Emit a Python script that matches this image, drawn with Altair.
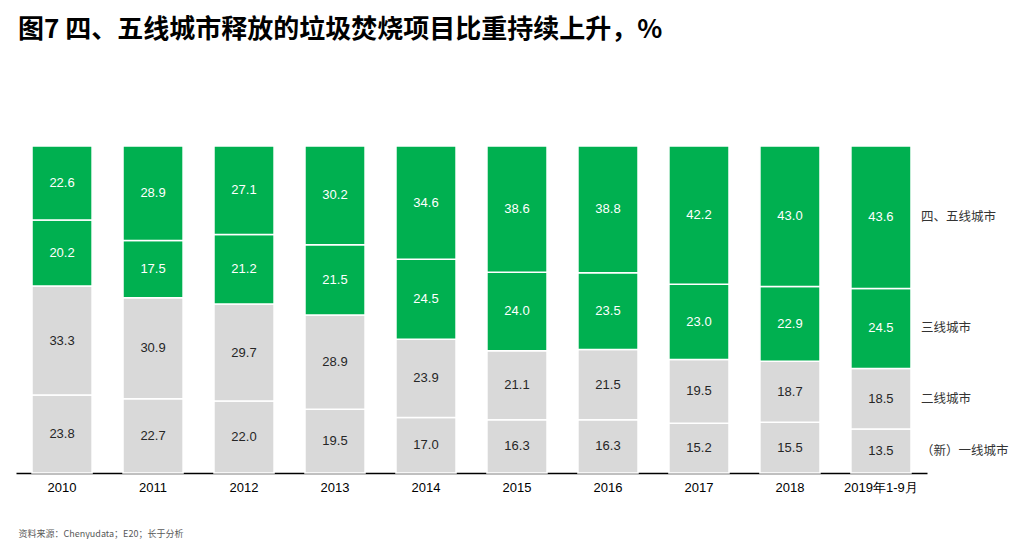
import altair as alt
import pandas as pd

years = ["2010", "2011", "2012", "2013", "2014", "2015", "2016", "2017", "2018", "2019年1-9月"]
tiers = ["（新）一线城市", "二线城市", "三线城市", "四、五线城市"]
tier1 = [23.8, 22.7, 22.0, 19.5, 17.0, 16.3, 16.3, 15.2, 15.5, 13.5]
tier2 = [33.3, 30.9, 29.7, 28.9, 23.9, 21.1, 21.5, 19.5, 18.7, 18.5]
tier3 = [20.2, 17.5, 21.2, 21.5, 24.5, 24.0, 23.5, 23.0, 22.9, 24.5]
tier45 = [22.6, 28.9, 27.1, 30.2, 34.6, 38.6, 38.8, 42.2, 43.0, 43.6]
colors = ["#D9D9D9", "#D9D9D9", "#00B050", "#00B050"]

title_text = "图7 四、五线城市释放的垃圾焚烧项目比重持续上升，%"
source_text = "资料来源：Chenyudata；E20；长于分析"

rows = []
for order, (tier, vals) in enumerate(zip(tiers, [tier1, tier2, tier3, tier45])):
    for y, v in zip(years, vals):
        rows.append({"year": y, "tier": tier, "value": v, "order": order})
df = pd.DataFrame(rows)

CJK = "Noto Sans CJK SC"
LATIN = "Liberation Sans"

base = alt.Chart(df).transform_joinaggregate(
    total="sum(value)", groupby=["year"]
).transform_stack(
    stack="value", groupby=["year"],
    sort=[alt.SortField("order", order="ascending")],
    as_=["s0", "s1"],
).transform_calculate(
    y0="datum.s0 / datum.total",
    y1="datum.s1 / datum.total",
    mid="(datum.s0 + datum.s1) / 2 / datum.total",
    label="format(datum.value, '.1f')",
)

xenc = alt.X(
    "year:N", sort=years,
    scale=alt.Scale(paddingInner=0.34, paddingOuter=0.176),
    axis=alt.Axis(
        title=source_text, titleFont=CJK, titleFontSize=9, titleFontWeight="normal",
        titleColor="#595959", titleAnchor="start", titleAlign="left",
        titleBaseline="alphabetic", titleX=2, titleY=63, titleAngle=0,
        labelAngle=0, labelFont=LATIN, labelFontSize=13, labelColor="#000000",
        labelPadding=8, ticks=False, domainColor="#000000", domainWidth=1.5,
        grid=False,
    ),
)

bars = base.mark_bar(stroke="white", strokeWidth=1.5).encode(
    x=xenc,
    y=alt.Y("y0:Q", scale=alt.Scale(domain=[0, 1]), axis=None),
    y2="y1:Q",
    color=alt.Color("tier:N", scale=alt.Scale(domain=tiers, range=colors), legend=None),
)

labels = base.mark_text(font=LATIN, fontSize=13, baseline="middle").encode(
    x=alt.X("year:N", sort=years),
    y=alt.Y("mid:Q"),
    text="label:N",
    color=alt.condition("datum.order >= 2", alt.value("#FFFFFF"), alt.value("#262626")),
)

side = base.transform_filter(
    alt.datum.year == years[-1]
).mark_text(font=CJK, fontSize=12.5, align="left", baseline="middle", dx=40, color="#333333").encode(
    x=alt.X("year:N", sort=years),
    y=alt.Y("mid:Q"),
    text="tier:N",
)

chart = alt.layer(bars, labels, side).properties(
    width=911, height=327,
    title=alt.Title(title_text, anchor="start", font=CJK, fontSize=26, fontWeight="bold",
                    color="#000000", offset=102, dx=2),
    autosize=alt.AutoSizeParams(type="none"),
    padding={"left": 8, "top": 138, "right": 86, "bottom": 66},
).configure_view(stroke=None)

chart.save("out.html", embed_options={"renderer": "svg", "actions": False})
